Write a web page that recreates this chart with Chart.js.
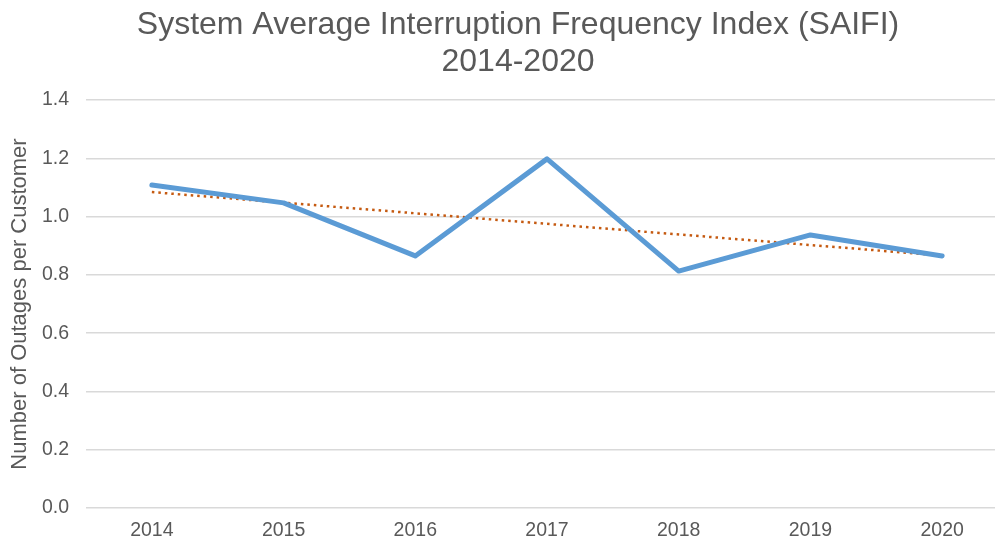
<!DOCTYPE html>
<html>
<head>
<meta charset="utf-8">
<script src="https://cdn.jsdelivr.net/npm/chart.js@4.4.1/dist/chart.umd.min.js"></script>
<style>
  html, body { margin: 0; padding: 0; background: #fff; overflow: hidden; }
  #wrap { position: relative; width: 1008px; height: 540px; }
</style>
</head>
<body>
<div id="wrap"><canvas id="chart"></canvas></div>
<script>
// Chart data
var years = ['2014', '2015', '2016', '2017', '2018', '2019', '2020'];
var saifi = [1.108, 1.047, 0.865, 1.198, 0.813, 0.937, 0.865];
// trend line read at its two ends
var trend = [1.084, null, null, null, null, null, 0.866];
var titleLines = ['System Average Interruption Frequency Index (SAIFI)', '2014-2020'];
var yTitle = 'Number of Outages per Customer';

var grey = '#595959';
var fontFamily = '"Liberation Sans", Arial, sans-serif';

// Draws the two-line title centred where the original has it
var titlePlugin = {
    id: 'twoLineTitle',
    afterDraw: function(chart) {
        var ctx = chart.ctx;
        ctx.save();
        ctx.fillStyle = grey;
        ctx.font = '32px ' + fontFamily;
        ctx.textAlign = 'center';
        ctx.textBaseline = 'middle';
        ctx.fillText(titleLines[0], 518, 25);
        ctx.fillText(titleLines[1], 518, 62);
        ctx.restore();
    }
};

var ctx = document.getElementById('chart').getContext('2d');
new Chart(ctx, {
    type: 'line',
    data: {
        labels: years,
        datasets: [{
            label: 'SAIFI',
            data: saifi,
            borderColor: '#5b9bd5',
            borderWidth: 5,
            pointRadius: 0,
            tension: 0,
            borderCapStyle: 'round',
            borderJoinStyle: 'round',
            fill: false
        }, {
            label: 'Trend',
            data: trend,
            borderColor: '#c55a11',
            borderWidth: 2.5,
            borderDash: [2.5, 4],
            pointRadius: 0,
            spanGaps: true,
            fill: false
        }]
    },
    options: {
        responsive: true,
        maintainAspectRatio: false,
        animation: false,
        layout: {
            padding: { top: 100, left: 0, right: 0, bottom: 0 }
        },
        scales: {
            y: {
                min: 0,
                max: 1.4,
                afterFit: function(scale) { scale.width = 86; },
                ticks: {
                    stepSize: 0.2,
                    color: grey,
                    padding: 17,
                    font: { size: 19.5, family: fontFamily },
                    callback: function(v) { return v.toFixed(1); }
                },
                grid: {
                    color: '#d9d9d9',
                    lineWidth: 1.5,
                    drawTicks: false
                },
                border: { display: false },
                title: {
                    display: true,
                    text: yTitle,
                    color: grey,
                    padding: { top: 7, bottom: 0 },
                    font: { size: 22, family: fontFamily }
                }
            },
            x: {
                offset: true,
                afterFit: function(scale) { scale.height = 32; },
                ticks: {
                    color: grey,
                    padding: 3,
                    font: { size: 19.5, family: fontFamily }
                },
                grid: { display: false },
                border: { display: false }
            }
        },
        plugins: {
            legend: { display: false },
            tooltip: { enabled: false }
        }
    },
    plugins: [titlePlugin]
});
</script>
</body>
</html>
